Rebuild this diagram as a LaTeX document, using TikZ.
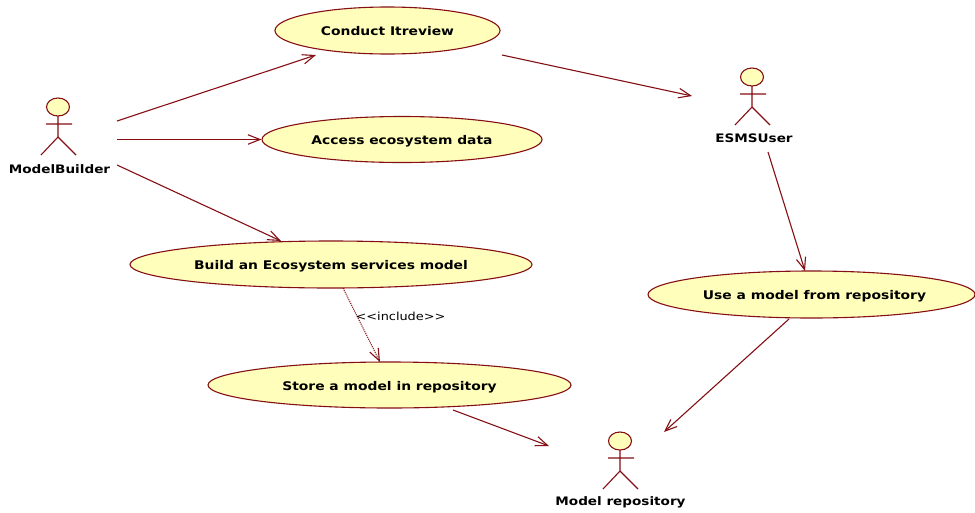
\documentclass[tikz,border=0pt]{standalone}
\usepackage{fontspec}
\setmainfont{DejaVu Sans}
\newfontface\labelbold[FakeStretch=1.16]{DejaVu Sans Bold}
\newfontface\labelreg[FakeStretch=1.16]{DejaVu Sans}
\usetikzlibrary{shapes.geometric,arrows.meta}
\definecolor{umlred}{HTML}{850F14}
\definecolor{umlfill}{HTML}{FFFFBB}
\newcommand{\uclabel}[1]{\raisebox{-5pt}[0pt][0pt]{#1}}
\tikzset{
  x=1pt,y=-1pt,
  usecase/.style={ellipse,draw=umlred,fill=umlfill,line width=1.1pt,inner sep=0pt,font=\labelbold\fontsize{11.95}{13}\selectfont,text=black},
  actorhead/.style={ellipse,draw=umlred,fill=umlfill,line width=1.1pt,inner sep=0pt,minimum width=23pt,minimum height=18pt},
  actorline/.style={draw=umlred,line width=1.1pt},
  actorname/.style={font=\labelbold\fontsize{11.7}{13}\selectfont,text=black,inner sep=0pt},
  assoc/.style={draw=umlred,line width=1.1pt,-{Straight Barb[length=12pt,width=9.5pt,line width=1.1pt]}},
  dep/.style={assoc,densely dotted},
  note/.style={font=\labelreg\fontsize{11.1}{13}\selectfont,text=black,inner sep=0pt},
  pics/actor/.style={code={
    \draw[actorline] (0,18) -- (0,39) (-12,26) -- (14,26) (-17,57) -- (0,39) -- (18,57);
  }}
}
\begin{document}
\begin{tikzpicture}
\useasboundingbox (0,0) rectangle (975,512);
\fill[white] (0,0) rectangle (975,512);
% use cases
\node[usecase,minimum width=225pt,minimum height=47pt] (conduct) at (387.5,30.5) {\uclabel{Conduct Itreview}};
\node[usecase,minimum width=280pt,minimum height=46pt] (access) at (402,139.5) {\uclabel{Access ecosystem data}};
\node[usecase,minimum width=402pt,minimum height=47pt] (build) at (331,264.5) {\uclabel{Build an Ecosystem services model}};
\node[usecase,minimum width=363pt,minimum height=46pt] (store) at (389.5,385) {\uclabel{Store a model in repository}};
\node[usecase,minimum width=327pt,minimum height=47pt] (use) at (811.5,294.5) {\hspace{6pt}\uclabel{Use a model from repository}};
% actors
\pic at (58,98) {actor};
\node[actorhead] (mb) at (58,107) {};
\node[actorname] (mbname) at (59.5,169.5) {ModelBuilder};
\pic at (752,68) {actor};
\node[actorhead] (esms) at (752,77) {};
\node[actorname] (esmsname) at (754,138.5) {ESMSUser};
\pic at (620,432) {actor};
\node[actorhead] (repo) at (620,441) {};
\node[actorname] (reponame) at (620.5,502.5) {Model repository};
% connectors
\draw[assoc] ([shift={(59,14)}]mb.center) -- ([shift={(-71.5,24.5)}]conduct.center);
\draw[assoc] ([shift={(59,32.5)}]mb.center) -- (access.west);
\draw[assoc] ([shift={(59,58)}]mb.center) -- ([shift={(-50,-23.5)}]build.center);
\draw[assoc] ([shift={(114.5,24.5)}]conduct.center) -- ([shift={(-60,19)}]esms.center);
\draw[assoc] ([shift={(16,75)}]esms.center) -- ([shift={(-6.5,-23.5)}]use.center);
\draw[dep] ([shift={(12,23.5)}]build.center) -- ([shift={(-9.5,-23)}]store.center);
\draw[assoc] ([shift={(63.5,25)}]store.center) -- ([shift={(-71,5)}]repo.center);
\draw[assoc] ([shift={(-22.5,24.5)}]use.center) -- ([shift={(44,-9)}]repo.center);
\node[note] (incl) at (400.5,316) {{<}{<}include{>}{>}};
\end{tikzpicture}
\end{document}
